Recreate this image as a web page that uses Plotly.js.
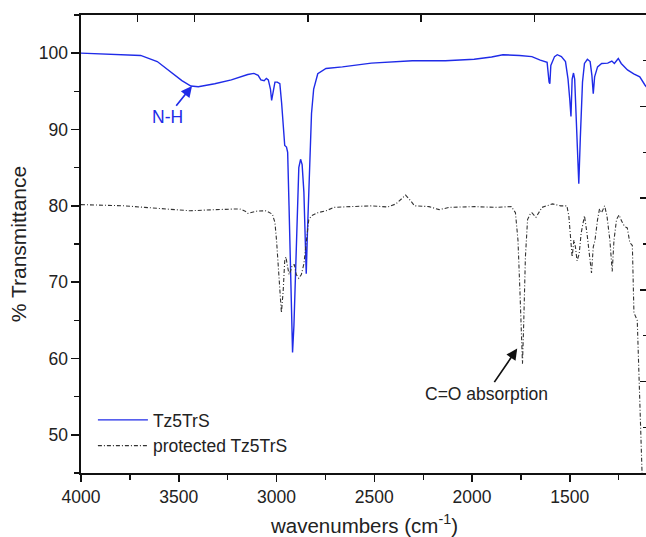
<!DOCTYPE html>
<html>
<head>
<meta charset="utf-8">
<script src="https://cdn.plot.ly/plotly-3.0.1.min.js"></script>
<style>
html, body { margin: 0; padding: 0; overflow: hidden; background: #fff; }
#chart { width: 650px; height: 537px; }
</style>
</head>
<body>
<div id="chart"></div>
<script>
// ---- data ----
const seriesNames = ["Tz5TrS", "protected Tz5TrS"];

const wnBlue = [4000,3900,3780,3695,3610,3526,3484,3438,3400,3316,3231,3147,3116,3094,3080,3063,3052,3042,3031,3025,3017,3008,2996,2983,2974,2966,2958,2949,2943,2936,2930,2924,2918,2911,2903,2894,2886,2877,2869,2860,2854,2848,2842,2831,2821,2810,2789,2747,2663,2515,2305,2136,2052,1989,1900,1842,1757,1694,1651,1631,1616,1606,1602,1597,1578,1564,1543,1522,1509,1500,1494,1488,1481,1475,1467,1460,1454,1446,1435,1425,1410,1396,1387,1380,1373,1358,1337,1306,1285,1272,1252,1237,1205,1173,1142,1115,1100];
const tBlue = [100.0,99.9,99.8,99.7,98.9,97.3,96.4,95.7,95.6,96.0,96.5,97.2,97.35,97.1,96.5,96.4,96.7,96.5,95.3,93.8,95.2,96.2,96.2,96.0,93.5,89.9,87.9,87.7,87.0,80.0,71.9,64.3,60.8,64.3,72.0,80.0,85.0,86.1,85.4,81.8,75.5,71.1,76.4,85.4,92.1,95.3,97.3,98.0,98.2,98.7,99.0,99.0,99.1,99.2,99.5,99.8,99.7,99.55,99.1,98.9,98.8,96.2,96.0,98.4,99.55,99.8,99.55,98.9,96.6,93.9,91.7,96.6,97.4,96.6,91.2,86.8,82.9,89.0,96.2,98.65,99.2,98.9,97.1,94.7,96.9,98.2,98.65,98.7,98.97,98.65,99.3,98.65,97.8,97.3,96.9,95.8,95.3];

const wnBlack = [4000,3900,3779,3674,3568,3442,3316,3189,3160,3147,3105,3052,3021,3008,3000,2991,2983,2975,2966,2958,2952,2943,2936,2928,2920,2909,2899,2886,2873,2860,2848,2835,2821,2789,2747,2705,2621,2515,2431,2389,2357,2340,2315,2294,2220,2168,2115,1989,1883,1799,1778,1765,1755,1746,1742,1736,1727,1716,1701,1694,1673,1642,1589,1547,1515,1505,1496,1488,1479,1471,1463,1452,1442,1425,1412,1400,1389,1380,1371,1358,1348,1337,1322,1310,1295,1283,1274,1261,1248,1235,1220,1206,1193,1180,1172,1155,1146,1138,1128];
const tBlack = [80.16,80.1,80.0,79.8,79.6,79.35,79.5,79.6,79.3,79.0,79.3,79.35,78.9,77.8,75.5,72.0,67.9,66.0,68.8,72.8,73.3,72.0,71.0,71.5,72.2,72.3,71.0,70.5,71.0,72.4,75.5,78.2,78.7,79.1,79.35,79.8,79.9,80.0,79.85,80.25,81.0,81.4,80.7,80.0,79.9,79.5,79.8,79.9,79.8,79.9,79.1,75.5,68.8,62.1,59.3,64.3,73.3,78.2,79.0,79.1,78.5,79.8,80.25,80.0,80.0,78.7,75.5,73.3,75.5,74.6,72.8,73.7,76.4,78.7,76.4,73.7,71.2,74.6,75.5,78.2,79.6,79.1,80.0,78.7,75.5,71.4,75.5,78.2,78.8,78.0,77.3,77.1,75.2,74.8,66.0,65.0,57.6,52.0,43.0];

const xTicks = [4000,3500,3000,2500,2000,1500];
const yTicks = [50,60,70,80,90,100];

// annotations: [text, head wavenumber, head %T, text wavenumber, text %T]
const noteNH = ["N-H", 3432, 95.7, 3560, 91.6];
const noteCO = ["C=O absorption", 1769, 61.3, 1926, 55.4];

const FONT = "Liberation Sans, Arial, Helvetica, sans-serif";

const traces = [
  {x: wnBlue, y: tBlue, type: "scatter", mode: "lines", name: seriesNames[0],
   line: {color: "#1f2be8", width: 1.4}},
  {x: wnBlack, y: tBlack, type: "scatter", mode: "lines", name: seriesNames[1],
   line: {color: "#333333", width: 1.1, dash: "4px,2px,1px,2px"}},
  // invisible helper trace for the secondary (unlabelled) top/right frame axes
  {x: [0, 5], y: [0, 5], xaxis: "x2", yaxis: "y2", mode: "none", showlegend: false, hoverinfo: "skip"}
];

const layout = {
  width: 650, height: 537,
  margin: {l: 81, r: 2, t: 15, b: 64},
  paper_bgcolor: "#fff", plot_bgcolor: "#fff",
  font: {family: FONT, size: 17.5, color: "#222"},
  showlegend: true,
  legend: {x: 0.021, y: 0.155, xanchor: "left", yanchor: "top",
           bgcolor: "rgba(0,0,0,0)", font: {family: FONT, size: 17.5, color: "#222"},
           itemwidth: 50, tracegroupgap: 4},
  xaxis: {
    range: [4000, 1100], autorange: false,
    tickvals: xTicks, ticks: "outside", ticklen: 7, tickwidth: 1.5, tickcolor: "#111",
    showline: true, linecolor: "#111", linewidth: 1.6,
    showgrid: false, zeroline: false,
    minor: {dtick: 250, tick0: 0, ticks: "outside", ticklen: 5, tickwidth: 1.3, tickcolor: "#111"},
    tickfont: {family: FONT, size: 17.5, color: "#222"},
    title: {text: "wavenumbers (cm<sup>-1</sup>)", font: {family: FONT, size: 20.5, color: "#222"}, standoff: 14}
  },
  yaxis: {
    range: [45, 105], autorange: false,
    tickvals: yTicks, ticks: "outside", ticklen: 8, tickwidth: 1.5, tickcolor: "#111",
    showline: true, linecolor: "#111", linewidth: 1.6,
    showgrid: false, zeroline: false,
    minor: {dtick: 5, tick0: 0, ticks: "outside", ticklen: 5, tickwidth: 1.3, tickcolor: "#111"},
    tickfont: {family: FONT, size: 17.5, color: "#222"},
    title: {text: "% Transmittance", font: {family: FONT, size: 21, color: "#222"}, standoff: 6}
  },
  xaxis2: {
    overlaying: "x", side: "top", range: [0, 5], autorange: false,
    tickvals: [0.5, 1, 2, 3, 4], ticks: "inside", ticklen: 7, tickwidth: 1.5, tickcolor: "#111",
    showticklabels: false, showline: true, linecolor: "#111", linewidth: 1.6,
    showgrid: false, zeroline: false
  },
  yaxis2: {
    overlaying: "y", side: "right", range: [0, 5], autorange: false,
    tickvals: [1, 2, 3, 4], ticks: "inside", ticklen: 8, tickwidth: 1.5, tickcolor: "#111",
    minor: {tickvals: [0.5, 1.5, 2.5, 3.5, 4.5], ticks: "inside", ticklen: 5, tickwidth: 1.3, tickcolor: "#111"},
    showticklabels: false, showline: true, linecolor: "#111", linewidth: 1.6,
    showgrid: false, zeroline: false
  },
  annotations: [
    {text: noteNH[0], x: noteNH[1], y: noteNH[2], ax: noteNH[3], ay: noteNH[4],
     xref: "x", yref: "y", axref: "x", ayref: "y",
     showarrow: true, arrowhead: 2, arrowsize: 1.3, arrowwidth: 1.7, arrowcolor: "#1f2be8",
     font: {family: FONT, size: 17.5, color: "#1f2be8"}},
    {text: noteCO[0], x: noteCO[1], y: noteCO[2], ax: noteCO[3], ay: noteCO[4],
     xref: "x", yref: "y", axref: "x", ayref: "y",
     showarrow: true, arrowhead: 2, arrowsize: 1.3, arrowwidth: 1.7, arrowcolor: "#111",
     font: {family: FONT, size: 17.5, color: "#222"}}
  ]
};

Plotly.newPlot("chart", traces, layout, {displayModeBar: false, staticPlot: true});
</script>
</body>
</html>
